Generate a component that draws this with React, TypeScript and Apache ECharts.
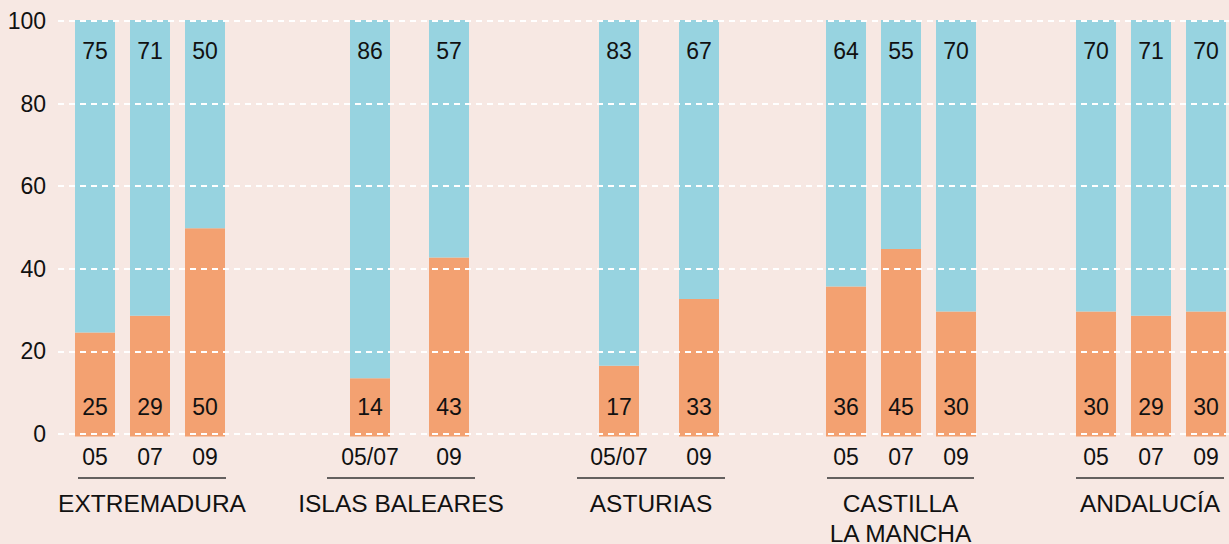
import React, { useEffect, useRef } from "react";
import * as echarts from "echarts";

const regions = ["EXTREMADURA", "ISLAS BALEARES", "ASTURIAS", "CASTILLA\nLA MANCHA", "ANDALUCÍA"];
const periods = [
  ["05", "07", "09"],
  ["05/07", "09"],
  ["05/07", "09"],
  ["05", "07", "09"],
  ["05", "07", "09"],
];
const orangeValues = [
  [25, 29, 50],
  [14, 43],
  [17, 33],
  [36, 45, 30],
  [30, 29, 30],
];
const blueValues = [
  [75, 71, 50],
  [86, 57],
  [83, 67],
  [64, 55, 70],
  [70, 71, 70],
];
const yMin = 0;
const yMax = 100;
const yInterval = 20;

// layout (pixels)
const groupGrids = [
  { left: 67.5, width: 165 },
  { left: 330.5, width: 158 },
  { left: 579, width: 160 },
  { left: 818.5, width: 165 },
  { left: 1068.5, width: 165 },
];
const underlines = [
  [78, 226],
  [327, 475],
  [577, 725],
  [827, 974],
  [1076, 1224],
];

const FONT = "'Liberation Sans', Arial, Helvetica, sans-serif";
const ORANGE = "#f3a171";
const BLUE = "#97d3e0";
const BG = "#f7e8e3";
const TXT = "#111111";
const TOP = 21;
const HEIGHT = 413;
const W = 1229;

export default function App() {
  const ref = useRef<HTMLDivElement>(null);
  useEffect(() => {
    document.body.style.margin = "0";
    const chart = echarts.init(ref.current!, null, { renderer: "svg" });
    const grids: any[] = groupGrids.map((g) => ({
      left: g.left,
      width: g.width,
      top: TOP - 1,
      height: HEIGHT + 3.5,
      outerBoundsMode: "none",
      containLabel: false,
    }));
    grids.push({ left: 58, right: 0, top: TOP, height: HEIGHT, outerBoundsMode: "none" });

    const xAxes: any[] = periods.map((p, i) => ({
      type: "category",
      gridIndex: i,
      data: p,
      axisLine: { show: false },
      axisTick: { show: false },
      axisLabel: { fontSize: 23, color: TXT, fontFamily: FONT, margin: 8.5 },
    }));
    xAxes.push({ type: "value", gridIndex: 5, min: 0, max: 1, show: false });

    const yAxes: any[] = periods.map((_, i) => ({
      type: "value",
      gridIndex: i,
      min: yMin,
      max: yMax,
      show: false,
    }));
    yAxes.push({
      type: "value",
      gridIndex: 5,
      min: yMin,
      max: yMax,
      interval: yInterval,
      z: 10,
      axisLine: { show: false },
      axisTick: { show: false },
      axisLabel: { fontSize: 23, color: TXT, fontFamily: FONT, margin: 12 },
      splitLine: { show: true, lineStyle: { color: "#ffffff", width: 2, type: [6, 5] } },
    });

    const series: any[] = [];
    periods.forEach((_, i) => {
      series.push({
        type: "bar",
        xAxisIndex: i,
        yAxisIndex: i,
        stack: "g" + i,
        barWidth: 40,
        data: orangeValues[i],
        itemStyle: { color: ORANGE },
        label: {
          show: true,
          position: "insideBottom",
          distance: 18,
          fontSize: 23,
          color: TXT,
          fontFamily: FONT,
        },
      });
      series.push({
        type: "bar",
        xAxisIndex: i,
        yAxisIndex: i,
        stack: "g" + i,
        barWidth: 40,
        data: blueValues[i],
        itemStyle: { color: BLUE },
        label: {
          show: true,
          position: "insideTop",
          distance: 19,
          fontSize: 23,
          color: TXT,
          fontFamily: FONT,
        },
      });
    });

    const graphic: any[] = [];
    regions.forEach((r, i) => {
      const [x1, x2] = underlines[i];
      graphic.push({
        type: "line",
        shape: { x1, y1: 478, x2, y2: 478 },
        style: { stroke: "#333333", lineWidth: 1.5 },
      });
      graphic.push({
        type: "text",
        x: (x1 + x2) / 2,
        y: 488,
        style: {
          text: r,
          fontSize: 24.5,
          fontFamily: FONT,
          fill: TXT,
          align: "center",
          verticalAlign: "top",
          lineHeight: 30,
        },
      });
    });

    chart.setOption({
      animation: false,
      backgroundColor: BG,
      grid: grids,
      xAxis: xAxes,
      yAxis: yAxes,
      series,
      graphic,
    });
    return () => chart.dispose();
  }, []);
  return (
    <div
      ref={ref}
      style={{ position: "fixed", left: 0, top: 0, width: W, height: 544, background: BG }}
    />
  );
}
